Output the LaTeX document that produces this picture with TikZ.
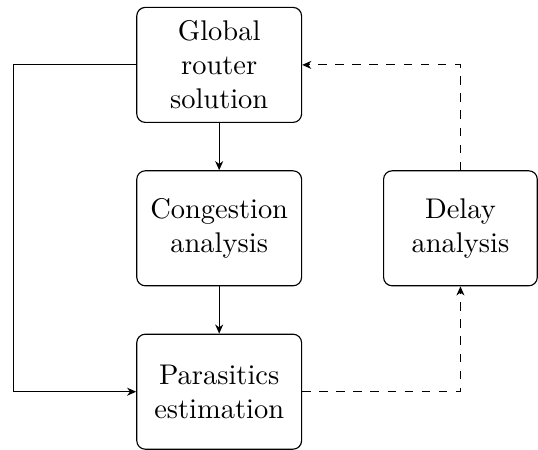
\documentclass[tikz,border=0pt]{standalone}
\usepackage{tikz}
\usetikzlibrary{arrows.meta, positioning}

\begin{document}
\begin{tikzpicture}[>={Stealth[length=3.2pt, width=2.8pt, inset=1pt]},
    box/.style={draw, rounded corners=3pt, align=center, minimum width=57.9pt, minimum height=40.4pt},
    node distance=16.6pt and 28.4pt]
    \useasboundingbox (-77pt,22.8pt) rectangle (112pt,-135.2pt);
    \node[box] (global) at (0,0) {Global\\router\\solution};
    \node[box, below=of global] (congestion) {Congestion\\analysis};
    \node[box, below=of congestion] (parasitics) {Parasitics\\estimation};
    \node[box, minimum width=54pt, right=of congestion] (delay) {Delay\\analysis};
    \draw[->] (global) -- (congestion);
    \draw[->] (congestion) -- (parasitics);
    \draw[->] (global.west) -- ++(-43.2pt,0) |- (parasitics.west);
    \draw[->, dashed] (parasitics.east) -| (delay.south);
    \draw[->, dashed] (delay.north) |- (global.east);
\end{tikzpicture}
\end{document}
